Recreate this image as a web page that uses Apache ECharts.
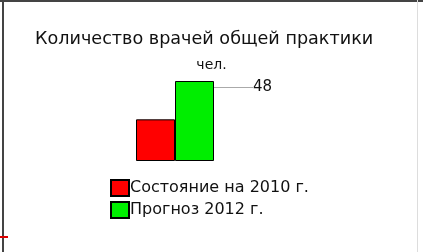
<!DOCTYPE html>
<html>
<head>
<meta charset="utf-8">
<script src="https://cdn.jsdelivr.net/npm/echarts@6/dist/echarts.min.js"></script>
<style>
  html, body { margin: 0; padding: 0; background: #fff; }
  #chart { width: 423px; height: 252px; }
</style>
</head>
<body>
<div id="chart"></div>
<script>
// данные диаграммы
const categories = ['врачи'];
const seriesNames = ['Состояние на 2010 г.', 'Прогноз 2012 г.'];
const values2010 = [25];
const values2012 = [48];
const colors = ['#ff0000', '#00ee00'];

const chart = echarts.init(document.getElementById('chart'));

const barStyle = (c) => ({ color: c, borderColor: '#000', borderWidth: 1 });

const option = {
  animation: false,
  title: [
    {
      text: 'Количество врачей общей практики',
      left: 30,
      top: 25,
      textStyle: { fontFamily: 'DejaVu Sans', fontSize: 17.6, fontWeight: 'normal', color: '#111' }
    },
    {
      text: 'чел.',
      left: 'center',
      top: 53,
      textStyle: { fontFamily: 'DejaVu Sans', fontSize: 14, fontWeight: 'normal', color: '#111' }
    }
  ],
  legend: {
    orient: 'vertical',
    left: 105,
    top: 174,
    itemWidth: 18,
    itemHeight: 16,
    itemGap: 4,
    icon: 'rect',
    textStyle: { fontFamily: 'DejaVu Sans', fontSize: 16, color: '#111', padding: [0, 0, 0, -4] },
    data: seriesNames
  },
  grid: { left: 136, right: 209, top: 81, bottom: 91 },
  xAxis: {
    type: 'category',
    data: categories,
    show: false
  },
  yAxis: {
    type: 'value',
    min: 0,
    max: 48,
    show: false
  },
  series: [
    {
      name: seriesNames[0],
      type: 'bar',
      data: values2010,
      barWidth: 39,
      barGap: '0%',
      itemStyle: barStyle(colors[0])
    },
    {
      name: seriesNames[1],
      type: 'bar',
      data: values2012,
      barWidth: 39,
      itemStyle: barStyle(colors[1]),
      label: {
        show: true,
        position: 'right',
        fontFamily: 'DejaVu Sans',
        fontSize: 15,
        color: '#111'
      },
      labelLine: { show: true, lineStyle: { color: '#aaa', width: 1 } },
      labelLayout: (p) => ({
        x: p.rect.x + p.rect.width + 39,
        y: p.rect.y - 1,
        align: 'left',
        verticalAlign: 'top'
      })
    }
  ],
  graphic: [
    { type: 'line', shape: { x1: 0, y1: 1, x2: 423, y2: 1 }, style: { stroke: '#444', lineWidth: 2 } },
    { type: 'line', shape: { x1: 3, y1: 0, x2: 3, y2: 252 }, style: { stroke: '#444', lineWidth: 2 } },
    { type: 'line', shape: { x1: 417.5, y1: 0, x2: 417.5, y2: 252 }, style: { stroke: '#ddd', lineWidth: 1 } },
    { type: 'line', shape: { x1: 0, y1: 237, x2: 8, y2: 237 }, style: { stroke: '#d00', lineWidth: 2 } }
  ]
};

chart.setOption(option);
</script>
</body>
</html>
